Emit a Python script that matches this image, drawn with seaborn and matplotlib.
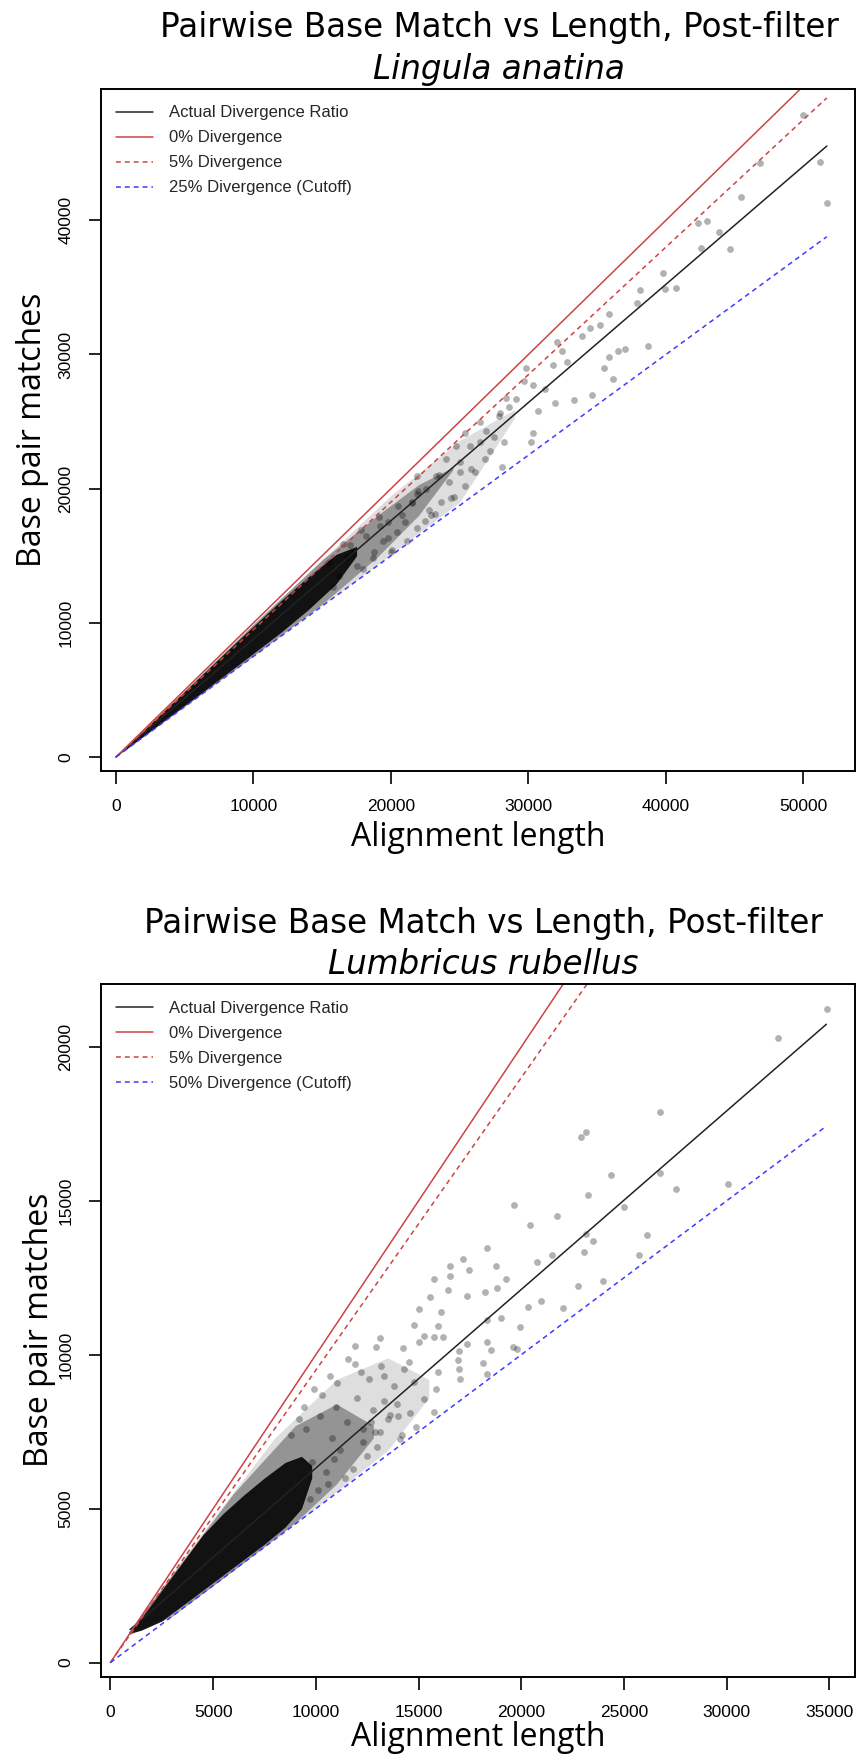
import numpy as np
import pandas as pd
import matplotlib
matplotlib.use("Agg")
import matplotlib.pyplot as plt
from matplotlib.lines import Line2D
import seaborn as sns

# ---------------- data ----------------
# Top panel: Lingula anatina
top_pts_x = [49990, 46840, 51200, 51730, 45430, 42300, 42960, 43880, 42550, 44650, 39800, 39930, 40700,
             38110, 37860, 35880, 35180, 34470, 33870, 38710, 37050, 36520, 35880, 35460, 36160, 34650,
             33340, 32460, 32810, 31750, 32110, 29810, 29640, 30340, 31930, 30700, 31230, 30340, 30160,
             28400, 28580, 27870, 27520, 28230, 28050, 26810, 26110, 26460, 25400, 24700, 25760, 23990,
             25050, 23290, 24340, 22580, 23640, 21870, 22930, 21520, 20820, 21870, 20460, 19760, 19400,
             20110, 21170, 18700,
             15500, 16200, 17000, 17500, 18200, 18800, 19200, 16800, 17800, 19800, 20500, 21000, 22000,
             21500, 22800, 23500, 24200, 25000, 25800, 26500, 27200, 15800, 18000, 20000, 22500,
             24600, 26900, 27900, 29100, 25400, 23200, 21900, 19100, 17200, 16500]
top_pts_y = [47840, 44240, 44360, 41300, 41710, 39810, 39940, 39140, 37950, 37830, 36090, 34850, 34970,
             34780, 33820, 33010, 32170, 31980, 31400, 30600, 30430, 30270, 29790, 28990, 28180, 26960,
             26570, 30270, 29470, 29240, 30920, 28990, 28020, 27700, 26410, 25760, 27440, 24150, 23510,
             26730, 26090, 25440, 23830, 23510, 21580, 22220, 21260, 24960, 24150, 23190, 23190, 22220,
             21260, 20930, 19320, 19970, 19000, 20930, 18040, 19000, 18040, 17070, 16750, 17550, 16100,
             15460, 16100, 14810,
             14500, 13500, 15800, 14200, 16500, 15300, 17200, 14900, 16900, 16300, 18700, 17500, 19800,
             18900, 18400, 21000, 20500, 22000, 21500, 23500, 22800, 12700, 14000, 15300, 17600,
             19400, 24300, 25600, 26700, 20200, 18100, 19600, 17900, 15200, 15900]
# dense cloud envelopes (alignment length, lower / upper base matches): outer, middle, core
top_core_x = [500, 3000, 6000, 9000, 12000, 14000, 16000, 17500]
top_core_lo = [420, 2330, 4620, 6950, 9300, 11000, 12900, 15000]
top_core_hi = [495, 2950, 5880, 8800, 11650, 13450, 15100, 15700]
top_mid_x = [500, 5000, 10000, 15000, 19000, 22000, 24500]
top_mid_lo = [400, 3800, 7550, 11400, 14900, 18000, 21400]
top_mid_hi = [500, 4960, 9900, 14700, 18000, 20300, 21600]
top_out_x = [500, 10000, 20000, 25000, 29000]
top_out_lo = [380, 7520, 15100, 19000, 25300]
top_out_hi = [500, 9950, 19500, 23600, 25900]
# reference lines: endpoints
top_line_x = [0, 51700]
top_actual_y = [0, 45530]
top_zero_y = [0, 51700]
top_five_y = [0, 49115]
top_cut_y = [0, 38775]
top_cut_label = "25% Divergence (Cutoff)"

# Bottom panel: Lumbricus rubellus
bot_pts_x = [34890, 32500, 26740, 23130, 22890, 24370, 26740, 27550, 30060, 23250, 25010, 19650, 21740,
             20430, 23130, 23480, 26140, 23080, 21480, 25720, 18310, 17180, 16550, 17450, 18780, 20780,
             15730, 16550, 19250, 22780, 23960, 18830, 18260, 17370, 16430, 15540, 20950, 20310, 22030,
             19020, 19960, 18310, 16080, 15020, 15960, 14790, 15260, 15730, 16200, 13100, 11920, 12910,
             14250, 15020, 17370, 18310, 18550, 16950, 19610, 16900, 18150, 19770, 16980, 11570, 13150,
             14550, 14270, 18310, 17020, 15850, 14790, 15960, 11030, 12200, 13310, 15260, 13970, 15730,
             13610, 12680, 14900, 14080, 13140, 12320,
             9500, 10200, 10800, 11200, 9800, 10500, 11500, 12000, 12500, 13000, 11800, 10300, 9200,
             13500, 12800, 11000, 14200, 13800, 10700, 11900, 12300, 13300, 9900, 10900, 12600, 14600,
             8800, 9400, 10100, 11400, 12900, 14000, 10600, 9700]
bot_pts_y = [21220, 20280, 17880, 17249, 17086, 15843, 15900, 15380, 15540, 15205, 14805, 14859, 14514,
             14222, 13919, 13703, 13886, 13324, 13249, 13249, 13454, 13108, 12870, 12762, 12870, 13000,
             12459, 12568, 12459, 12243, 12405, 12157, 12049, 11919, 12114, 11865, 11757, 11541, 11508,
             11184, 10892, 11119, 11378, 11486, 10946, 10968, 10622, 10568, 10568, 10535, 10297, 10243,
             10211, 10405, 10351, 10405, 10168, 10135, 10243, 9843, 9735, 10189, 9541, 9865, 9649,
             9757, 9541, 9378, 9216, 8892, 9108, 9432, 9086, 9432, 9324, 8568, 8405, 8135,
             8027, 7811, 7649, 7270, 7486, 7162,
             7600, 8000, 7300, 6900, 6500, 6200, 7800, 8600, 6700, 7000, 6300, 8700, 7900,
             7900, 8200, 8300, 7400, 9000, 9300, 9700, 7600, 8500, 8900, 6600, 9200, 8100,
             7400, 8300, 5600, 6000, 7500, 8000, 5800, 5300]
bot_core_x = [900, 1500, 2500, 3500, 4500, 5500, 6500, 7500, 8500, 9300, 9800]
bot_core_lo = [950, 1050, 1350, 1850, 2350, 2850, 3350, 3850, 4400, 5000, 6000]
bot_core_hi = [1000, 1450, 2350, 3250, 4150, 4850, 5450, 6000, 6500, 6700, 6400]
bot_mid_x = [900, 3000, 6000, 9000, 11000, 12800]
bot_mid_lo = [900, 1500, 3000, 4550, 5800, 7300]
bot_mid_hi = [1000, 2850, 5500, 7700, 8400, 7700]
bot_out_x = [900, 4000, 8000, 11000, 13500, 15500]
bot_out_lo = [900, 2000, 4000, 5550, 6900, 8600]
bot_out_hi = [1000, 3800, 7300, 9200, 9900, 9200]
bot_line_x = [0, 34850]
bot_actual_x = [954, 34856]
bot_actual_y = [1071, 20737]
bot_zero_y = [0, 34850]
bot_five_y = [0, 33108]
bot_cut_y = [0, 17425]
bot_cut_label = "50% Divergence (Cutoff)"

titles = ["Pairwise Base Match vs Length, Post-filter", "Pairwise Base Match vs Length, Post-filter"]
species = ["Lingula anatina", "Lumbricus rubellus"]
xlabel = "Alignment length"
ylabel = "Base pair matches"
top_xticks = [0, 10000, 20000, 30000, 40000, 50000]
top_yticks = [0, 10000, 20000, 30000, 40000]
bot_xticks = [0, 5000, 10000, 15000, 20000, 25000, 30000, 35000]
bot_yticks = [0, 5000, 10000, 15000, 20000]

# ---------------- style ----------------
sns.set_theme(style="ticks")
plt.rcParams["font.family"] = ["Liberation Sans", "DejaVu Sans"]

W, H = 857, 1757
fig = plt.figure(figsize=(W / 100, H / 100), dpi=100)

RED = "#cc4444"
BLUE = "#3b3bff"
BLACK = "#222222"
DASH = (3.2, 2.6)

def axes_px(left, top, right, bottom):
    return fig.add_axes([left / W, 1 - bottom / H, (right - left) / W, (bottom - top) / H])

def draw(ax, pts_x, pts_y, env, line_x, actual_x, actual_y, zero_y, five_y, cut_y, cut_label,
         xlim, ylim, xticks, yticks):
    for (ex, elo, ehi), a in zip(env, [0.13, 0.33, 0.88]):
        ax.fill_between(ex, elo, ehi, color="#000000", alpha=a, lw=0)
    df = pd.DataFrame({"x": pts_x, "y": pts_y})
    sns.scatterplot(data=df, x="x", y="y", ax=ax, color="#000000", alpha=0.3,
                    s=24, linewidth=0, legend=False)
    ax.plot(actual_x, actual_y, color=BLACK, lw=1.1)
    ax.plot(line_x, zero_y, color=RED, lw=1.1)
    ax.plot(line_x, five_y, color=RED, lw=1.1, dashes=DASH)
    ax.plot(line_x, cut_y, color=BLUE, lw=1.1, dashes=DASH)
    ax.set_xlim(*xlim)
    ax.set_ylim(*ylim)
    ax.set_xticks(xticks)
    ax.set_yticks(yticks)
    ax.set_xticklabels([str(t) for t in xticks])
    ax.set_yticklabels([str(t) for t in yticks], rotation=90, va="center")
    ax.tick_params(axis="both", length=9, width=1.2, labelsize=12.5, pad=11, color="black",
                   labelcolor="black")
    ax.set_xlabel("")
    ax.set_ylabel("")
    for sp in ax.spines.values():
        sp.set_visible(True)
        sp.set_linewidth(1.4)
        sp.set_color("black")
    handles = [Line2D([], [], color=BLACK, lw=1.1),
               Line2D([], [], color=RED, lw=1.1),
               Line2D([], [], color=RED, lw=1.1, dashes=DASH),
               Line2D([], [], color=BLUE, lw=1.1, dashes=DASH)]
    labels = ["Actual Divergence Ratio", "0% Divergence", "5% Divergence", cut_label]
    ax.legend(handles, labels, loc="upper left", bbox_to_anchor=(0.02, 0.976), frameon=False,
              borderpad=0, borderaxespad=0, handlelength=2.2, handletextpad=1.0,
              labelspacing=0.6, prop={"family": "Liberation Sans", "size": 12})

# top panel
ax1 = axes_px(101, 89, 855, 771)
draw(ax1, top_pts_x, top_pts_y,
     [(top_out_x, top_out_lo, top_out_hi), (top_mid_x, top_mid_lo, top_mid_hi),
      (top_core_x, top_core_lo, top_core_hi)],
     top_line_x, top_line_x, top_actual_y, top_zero_y, top_five_y, top_cut_y, top_cut_label,
     (-1090, 53750), (-1040, 49780), top_xticks, top_yticks)

# bottom panel
ax2 = axes_px(101, 984, 855, 1677)
draw(ax2, bot_pts_x, bot_pts_y,
     [(bot_out_x, bot_out_lo, bot_out_hi), (bot_mid_x, bot_mid_lo, bot_mid_hi),
      (bot_core_x, bot_core_lo, bot_core_hi)],
     bot_line_x, bot_actual_x, bot_actual_y, bot_zero_y, bot_five_y, bot_cut_y, bot_cut_label,
     (-460, 36250), (-470, 22045), bot_xticks, bot_yticks)

title_font = dict(family=["DejaVu Sans"], size=23.5, color="black")
lab_font = dict(family=["Open Sans", "DejaVu Sans"], size=23, color="black")
ax_cx = 478 / W
for (t_x, t_y1, t_y2, xl_y, yl_y, yl_x, i) in [(499, 27, 69, 837, 430, 33, 0),
                                               (483, 923, 964, 1737, 1330, 40, 1)]:
    fig.text(t_x / W, 1 - t_y1 / H, titles[i], ha="center", va="center", **title_font)
    fig.text(t_x / W, 1 - t_y2 / H, species[i], ha="center", va="center", style="italic", **title_font)
    fig.text(ax_cx, 1 - xl_y / H, xlabel, ha="center", va="center", **lab_font)
    fig.text(yl_x / W, 1 - yl_y / H, ylabel, ha="center", va="center", rotation=90, **lab_font)

fig.savefig("out.png", dpi=100)
